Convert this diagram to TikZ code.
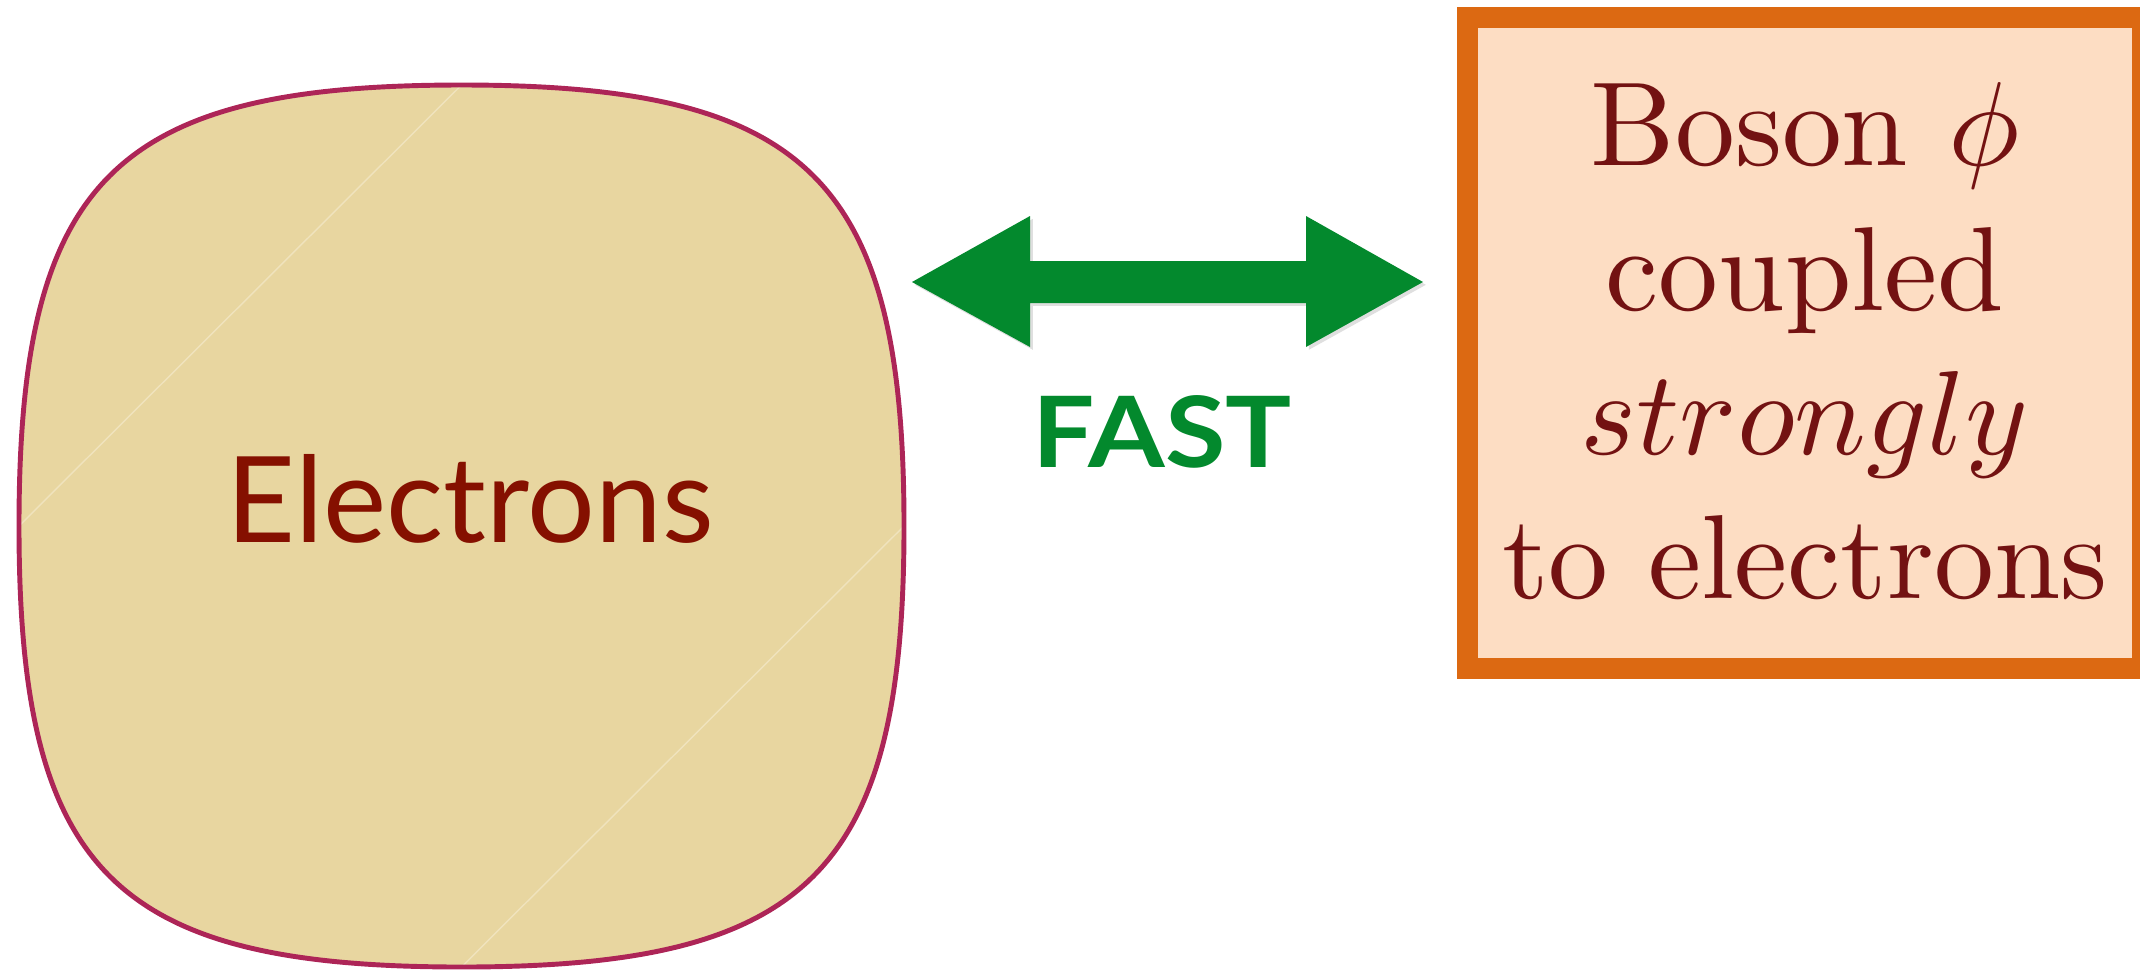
\documentclass[tikz,border=0pt]{standalone}
\usepackage{fontspec}
\newfontfamily\gill{Lato}
\usetikzlibrary{shadows}
\definecolor{blobfill}{HTML}{E8D6A0}
\definecolor{blobline}{HTML}{AD2557}
\definecolor{seam}{HTML}{F0E3BD}
\definecolor{elred}{HTML}{851000}
\definecolor{arrowgreen}{HTML}{03892D}
\definecolor{boxfill}{HTML}{FDDDC3}
\definecolor{boxorange}{HTML}{DC6912}
\definecolor{boxtext}{HTML}{731212}
\tikzset{
  bosonline/.style={anchor=base, inner sep=0pt, text=boxtext, font=\fontsize{10}{12}\selectfont},
}
\begin{document}
\begin{tikzpicture}[x=0.01cm,y=-0.01cm]
\useasboundingbox (0,0) rectangle (2140,969);
\clip (0,0) rectangle (2140,969);
% blob
\fill[blobfill] (461.5,85) .. controls (114.5,85) and (19,179) .. (19,526)
  .. controls (19,873) and (114.5,967) .. (461.5,967)
  .. controls (808.5,967) and (904,873) .. (904,526)
  .. controls (904,179) and (808.5,85) .. (461.5,85) -- cycle;
\draw[seam, line width=0.4pt] (461.5,85) -- (19,526);
\draw[seam, line width=0.4pt] (904,526) -- (461.5,967);
\draw[blobline, line width=1.4pt] (461.5,85) .. controls (114.5,85) and (19,179) .. (19,526)
  .. controls (19,873) and (114.5,967) .. (461.5,967)
  .. controls (808.5,967) and (904,873) .. (904,526)
  .. controls (904,179) and (808.5,85) .. (461.5,85) -- cycle;
\node[anchor=base, inner sep=0pt, text=elred, font=\gill\fontsize{34}{40}\selectfont] (electrons) at (470,542) {Electrons};
% arrow
\coordinate (arrL) at (912,282);
\coordinate (arrR) at (1423,282);
\fill[arrowgreen, drop shadow={shadow xshift=0.8pt, shadow yshift=-0.8pt, opacity=0.25}]
  (arrL) -- ++(118,-66) -- ++(0,45) -- ++(276,0) -- ++(0,-45) -- (arrR)
  -- ++(-117,65) -- ++(0,-44) -- ++(-276,0) -- ++(0,44) -- cycle;
\node[anchor=base, inner sep=0pt, text=arrowgreen, font=\gill\bfseries\fontsize{28}{32}\selectfont] (fast) at (1162,467) {\scalebox{1.12}[1]{FAST}};
% box
\node[draw=boxorange, line width=5.97pt, fill=boxfill, inner sep=0pt, outer sep=0pt,
  minimum width=6.745cm, minimum height=6.51cm] (boson) at (1805.25,343) {};
\node[bosonline] (l1) at (1805,165) {\scalebox{3.4}{Boson $\phi$}};
\node[bosonline] (l2) at (1805,310) {\scalebox{3.4}{coupled}};
\node[bosonline] (l3) at (1805,454) {\scalebox{3.4}{$strongly$}};
\node[bosonline] (l4) at (1805,598) {\scalebox{3.4}{to electrons}};
\end{tikzpicture}
\end{document}
